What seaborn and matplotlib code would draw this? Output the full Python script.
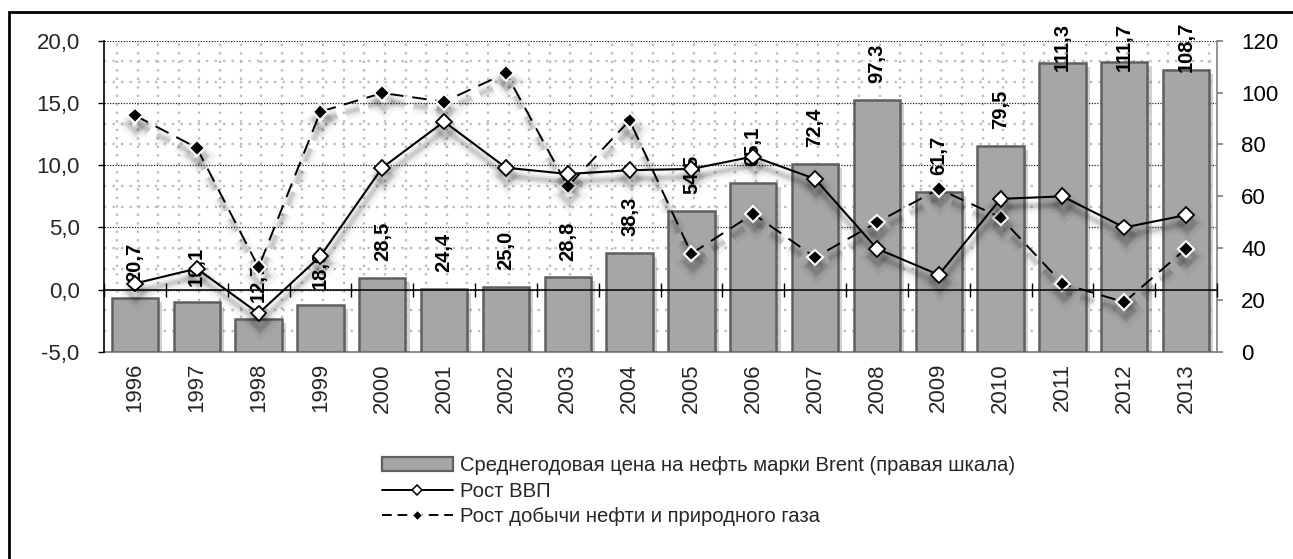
import numpy as np
import pandas as pd
import matplotlib
matplotlib.use('Agg')
import matplotlib.pyplot as plt
import matplotlib.patheffects as pe
from matplotlib.lines import Line2D
from matplotlib.patches import Patch, Rectangle
from matplotlib.ticker import FuncFormatter, NullLocator
import seaborn as sns

# ---------------- data ----------------
years = [str(y) for y in range(1996, 2014)]
brent = [20.7, 19.1, 12.7, 18.0, 28.5, 24.4, 25.0, 28.8, 38.3, 54.5,
         65.1, 72.4, 97.3, 61.7, 79.5, 111.3, 111.7, 108.7]
gdp = [0.5, 1.7, -1.9, 2.7, 9.8, 13.5, 9.8, 9.3, 9.6, 9.7,
       10.7, 8.9, 3.3, 1.2, 7.3, 7.5, 5.0, 6.0]
oilgas = [14.0, 11.4, 1.8, 14.3, 15.8, 15.1, 17.4, 8.3, 13.6, 2.9,
          6.1, 2.6, 5.4, 8.1, 5.8, 0.5, -1.0, 3.3]
left_ticks = [-5, 0, 5, 10, 15, 20]
right_ticks = [0, 20, 40, 60, 80, 100, 120]
series_labels = ['Среднегодовая цена на нефть марки Brent (правая шкала)',
                 'Рост ВВП',
                 'Рост добычи нефти и природного газа']

df = pd.DataFrame({'year': years, 'brent': brent, 'gdp': gdp, 'oil': oilgas})

# ---------------- style ----------------
sns.set_theme(style='white')
plt.rcParams['font.family'] = ['Liberation Sans', 'DejaVu Sans']
FS = 16
LFS = 14.6
BAR_FACE = '#a6a6a6'
BAR_EDGE = '#5f5f5f'

fig = plt.figure(figsize=(12.93, 5.59), dpi=100)
rect = [104 / 1293, 1 - 352 / 559, 1113 / 1293, 311.3 / 559]
axg = fig.add_axes(rect, zorder=0)   # background grid + year labels
ax2 = fig.add_axes(rect, zorder=1)   # bars, right scale
ax = fig.add_axes(rect, zorder=2)    # lines, left scale
for a in (ax2, ax):
    a.patch.set_visible(False)

comma = FuncFormatter(lambda v, p: f'{v:.1f}'.replace('.', ','))

# ---- background grid axis ----
axg.set_xlim(-0.5, len(years) - 0.5)
axg.set_ylim(left_ticks[0], left_ticks[-1])
axg.set_xticks(range(len(years)))
axg.set_xticklabels(years, rotation=90, fontsize=FS)
axg.set_yticks(left_ticks)
axg.set_yticks(np.arange(-5, 20, 5 / 3), minor=True)
axg.set_xticks(np.arange(-0.29, len(years) - 0.5, 1 / 3), minor=True)
axg.tick_params(axis='x', which='both', length=0, pad=8, bottom=False)
axg.tick_params(axis='y', which='both', length=0, left=False, labelleft=False)
axg.grid(which='minor', color='#bdbdbd', linestyle=(0, (1, 2.6)), linewidth=1.7)
axg.yaxis.grid(True, which='major', color='#202020', linestyle=(0, (1, 1.2)), linewidth=0.9)
axg.xaxis.grid(False, which='major')
for s in ['top', 'left', 'right']:
    axg.spines[s].set_visible(False)
axg.spines['bottom'].set_color('#7a7a7a')
axg.spines['bottom'].set_linewidth(1.2)

# ---- bars (right scale) ----
sns.barplot(data=df, x='year', y='brent', ax=ax2, color=BAR_FACE, width=0.75,
            edgecolor=BAR_EDGE, linewidth=1.8, saturation=1, errorbar=None)
for p in ax2.patches:
    p.set_path_effects([pe.SimplePatchShadow(offset=(3, -3), shadow_rgbFace='black', alpha=0.18),
                        pe.Normal()])
ax2.set_xlim(-0.5, len(years) - 0.5)
ax2.set_ylim(right_ticks[0], right_ticks[-1])
ax2.set_yticks(right_ticks)
ax2.yaxis.tick_right()
ax2.tick_params(axis='y', right=True, left=False, direction='out', length=4.5,
                color='#808080', labelsize=FS, pad=13, labelcolor='black')
ax2.tick_params(axis='x', bottom=False, labelbottom=False)
ax2.set_xlabel('')
ax2.set_ylabel('')
for s in ['top', 'left', 'bottom']:
    ax2.spines[s].set_visible(False)
ax2.spines['right'].set_color('#808080')
ax2.spines['right'].set_linewidth(1.2)

for i, v in enumerate(brent):
    ax2.text(i, min(v + 14, 117.5), f'{v:.1f}'.replace('.', ','), rotation=90,
             ha='center', va='center', fontsize=14.5, fontweight='bold', color='black')

# ---- lines (left scale) ----
shadow = [pe.SimpleLineShadow(offset=(1, -6), shadow_color='black', alpha=0.04, linewidth=11),
          pe.SimpleLineShadow(offset=(1, -6), shadow_color='black', alpha=0.07, linewidth=6),
          pe.SimpleLineShadow(offset=(1, -6), shadow_color='black', alpha=0.10, linewidth=3),
          pe.Normal()]

sns.pointplot(data=df, x='year', y='oil', ax=ax, color='black', markers='D',
              linestyles='-', errorbar=None, linewidth=1.4)
oil_line = ax.lines[-1]
oil_line.set_dashes([7.5, 4.5])
oil_line.set_markersize(8)
oil_line.set_markerfacecolor('black')
oil_line.set_markeredgecolor('white')
oil_line.set_markeredgewidth(1.5)
oil_line.set_path_effects(shadow)

sns.pointplot(data=df, x='year', y='gdp', ax=ax, color='black', markers='D',
              linestyles='-', errorbar=None, linewidth=1.5)
gdp_line = ax.lines[-1]
gdp_line.set_markersize(8)
gdp_line.set_markerfacecolor('white')
gdp_line.set_markeredgecolor('black')
gdp_line.set_markeredgewidth(1.3)
gdp_line.set_path_effects(shadow)

ax.set_xlim(-0.5, len(years) - 0.5)
ax.set_ylim(left_ticks[0], left_ticks[-1])
ax.set_yticks(left_ticks)
ax.yaxis.set_major_formatter(comma)
ax.tick_params(axis='y', left=True, direction='out', length=4.5, color='black',
               labelsize=FS, pad=13, width=1)
ax.xaxis.set_major_locator(NullLocator())
ax.set_xticks(np.arange(-0.5, len(years), 1), minor=True)
ax.tick_params(axis='x', which='minor', bottom=True, direction='inout', length=10,
               width=1, color='black', labelbottom=False)
ax.tick_params(axis='x', which='major', bottom=False, labelbottom=False)
ax.set_xlabel('')
ax.set_ylabel('')
for s in ['top', 'right']:
    ax.spines[s].set_visible(False)
ax.spines['bottom'].set_position(('data', 0))
ax.spines['bottom'].set_color('black')
ax.spines['bottom'].set_linewidth(1.1)
ax.spines['left'].set_color('black')
ax.spines['left'].set_linewidth(1.2)

# ---- legend ----
handles = [
    Patch(facecolor=BAR_FACE, edgecolor=BAR_EDGE, linewidth=1.6),
    Line2D([], [], color='black', lw=1.4, marker='D', ms=5.5, mfc='white', mec='black', mew=1.1),
    Line2D([], [], color='black', lw=1.4, dashes=(5, 3), marker='D', ms=5.5, mfc='black',
           mec='white', mew=0.8),
]
fig.legend(handles, series_labels, loc='upper left',
           bbox_to_anchor=(382 / 1293, 1 - 456 / 559), frameon=False, fontsize=LFS,
           handlelength=3.5, handletextpad=0.35, labelspacing=0.33,
           borderpad=0, borderaxespad=0)

# ---- outer frame (left and top edges visible) ----
fig.add_artist(Rectangle((9 / 1293, -0.2), 1.2, 1.2 - 12 / 559, transform=fig.transFigure,
                         fill=False, edgecolor='black', linewidth=2))

fig.savefig('out.png', dpi=100)
